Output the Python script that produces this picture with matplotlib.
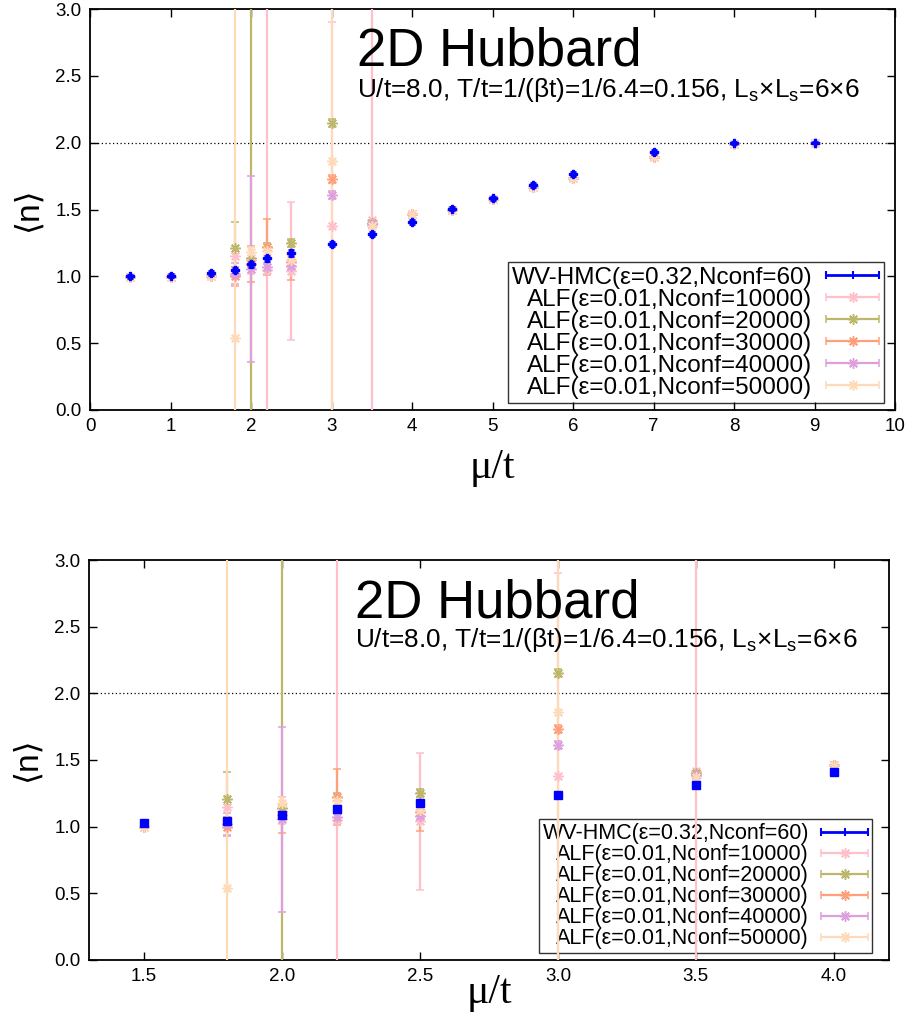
import numpy as np
import matplotlib
matplotlib.use("Agg")
import matplotlib.pyplot as plt
from matplotlib.container import ErrorbarContainer
from matplotlib.legend_handler import HandlerErrorbar

plt.rcParams['font.family'] = ['Liberation Sans', 'DejaVu Sans']
plt.rcParams['mathtext.fontset'] = 'custom'
plt.rcParams['mathtext.rm'] = 'Liberation Sans'

# chemical potential mu/t
mu = [0.5, 1.0, 1.5, 1.8, 2.0, 2.2, 2.5, 3.0, 3.5, 4.0, 4.5, 5.0, 5.5, 6.0, 7.0, 8.0, 9.0]

# WV-HMC
hmc_n = [1.00, 1.005, 1.025, 1.045, 1.09, 1.135, 1.175, 1.24, 1.315, 1.41, 1.505,
         1.585, 1.685, 1.765, 1.93, 1.995, 2.00]
hmc_err = [0.01, 0.01, 0.012, 0.015, 0.02, 0.02, 0.02, 0.015, 0.015, 0.015, 0.012,
           0.012, 0.015, 0.015, 0.012, 0.008, 0.005]

# ALF runs
alf_n_10000 = [0.995, 0.995, 1.00, 1.15, 1.12, 1.05, 1.04, 1.38, 1.42, 1.465, 1.50,
               1.58, 1.665, 1.735, 1.895, 1.99, 2.00]
alf_err_10000 = [0.01, 0.01, 0.01, 0.08, 0.10, 5.0, 0.515, 1.525, 5.0, 0.02, 0.02,
                 0.02, 0.02, 0.02, 0.02, 0.01, 0.01]
alf_n_20000 = [0.995, 0.995, 1.00, 1.21, 1.14, 1.22, 1.25, 2.15, 1.40, 1.465, 1.50,
               1.58, 1.665, 1.735, 1.895, 1.99, 2.00]
alf_err_20000 = [0.01, 0.01, 0.01, 0.20, 5.0, 0.03, 0.03, 0.03, 0.02, 0.02, 0.02,
                 0.02, 0.02, 0.02, 0.02, 0.01, 0.01]
alf_n_30000 = [0.995, 0.995, 1.00, 1.00, 1.09, 1.22, 1.11, 1.73, 1.39, 1.465, 1.50,
               1.58, 1.665, 1.735, 1.895, 1.99, 2.00]
alf_err_30000 = [0.01, 0.01, 0.01, 0.07, 0.135, 0.21, 0.14, 0.03, 0.02, 0.02, 0.02,
                 0.02, 0.02, 0.02, 0.02, 0.01, 0.01]
alf_n_40000 = [0.995, 0.995, 1.00, 1.02, 1.055, 1.07, 1.08, 1.61, 1.39, 1.465, 1.50,
               1.58, 1.665, 1.735, 1.895, 1.99, 2.00]
alf_err_40000 = [0.01, 0.01, 0.01, 0.08, 0.695, 0.03, 0.03, 0.03, 0.02, 0.02, 0.02,
                 0.02, 0.02, 0.02, 0.02, 0.01, 0.01]
alf_n_50000 = [0.995, 0.995, 1.00, 0.54, 1.18, 1.19, 1.125, 1.86, 1.375, 1.465, 1.50,
               1.58, 1.665, 1.735, 1.895, 1.99, 2.00]
alf_err_50000 = [0.01, 0.01, 0.01, 5.0, 0.04, 0.03, 0.03, 5.0, 0.02, 0.02, 0.02,
                 0.02, 0.02, 0.02, 0.02, 0.01, 0.01]

alf_n = [alf_n_10000, alf_n_20000, alf_n_30000, alf_n_40000, alf_n_50000]
alf_err = [alf_err_10000, alf_err_20000, alf_err_30000, alf_err_40000, alf_err_50000]
alf_colors = ['#ffc0cb', '#bdb76b', '#ffa07a', '#dda0dd', '#ffdab9']

hmc_label = 'WV-HMC(ε=0.32,Nconf=60)'
alf_labels = ['ALF(ε=0.01,Nconf=10000)', 'ALF(ε=0.01,Nconf=20000)',
              'ALF(ε=0.01,Nconf=30000)', 'ALF(ε=0.01,Nconf=40000)',
              'ALF(ε=0.01,Nconf=50000)']

title = '2D Hubbard'
subtitle = r'U/t=8.0, T/t=1/(βt)=1/6.4=0.156, L$_{\rm s}$×L$_{\rm s}$=6×6'

star = (8, 2, 0)


def panel(ax, xlim, xticks, xfmt, bmarker, bms, leg_fs, leg_anchor, t_y, s_y, xl_y):
    ax.axhline(2.0, color='black', lw=0.9, ls=(0, (1, 2)), zorder=1)

    for vals, errs, col in zip(alf_n, alf_err, alf_colors):
        ax.errorbar(mu, vals, yerr=errs, marker=star, ms=7.5, mew=1.1, ls='none',
                    color=col, elinewidth=1.6, capsize=3, capthick=1.6, zorder=3)
    ax.errorbar(mu, hmc_n, yerr=hmc_err, marker=bmarker, ms=bms, ls='none',
                color='blue', elinewidth=2, capsize=2.5, capthick=2, zorder=4)

    # legend proxies drawn as horizontal error bars (gnuplot style)
    handles = [ax.errorbar([np.nan], [np.nan], xerr=[1.0], marker='|', ms=6, mew=1.5,
                           ls='none', color='blue', elinewidth=2, capsize=3, capthick=2)]
    for col in alf_colors:
        handles.append(ax.errorbar([np.nan], [np.nan], xerr=[1.0], marker=star, ms=7.5,
                                   mew=1.1, ls='none', color=col, elinewidth=1.6,
                                   capsize=3, capthick=1.6))
    leg = ax.legend(handles, [hmc_label] + alf_labels, loc='lower right',
                    bbox_to_anchor=leg_anchor, fontsize=leg_fs, markerfirst=False,
                    fancybox=False, edgecolor='black', facecolor='none',
                    handlelength=2.2, handletextpad=0.55, labelspacing=0.0,
                    borderpad=0.18, borderaxespad=0,
                    handler_map={ErrorbarContainer: HandlerErrorbar(xerr_size=1.1)})
    leg.get_frame().set_linewidth(1.0)
    leg.set_zorder(1)

    ax.text(0.332, t_y, title, transform=ax.transAxes, fontsize=38, va='baseline')
    ax.text(0.332, s_y, subtitle, transform=ax.transAxes, fontsize=18.9, va='baseline')

    ax.set_xlim(xlim)
    ax.set_ylim(0, 3)
    ax.set_xticks(xticks)
    ax.set_xticklabels([xfmt.format(v) for v in xticks])
    ax.set_yticks(np.arange(0, 3.01, 0.5))
    ax.set_yticklabels(['{:.1f}'.format(v) for v in np.arange(0, 3.01, 0.5)])
    ax.tick_params(direction='in', length=6, width=1, top=True, right=True,
                   labelsize=13.5, pad=6)
    for sp in ax.spines.values():
        sp.set_linewidth(1.3)

    ax.set_xlabel('μ/t', fontsize=30, family=['Liberation Serif', 'DejaVu Serif'])
    ax.xaxis.label.set_va('baseline')
    ax.xaxis.set_label_coords(0.5, xl_y)
    ax.set_ylabel('⟨n⟩', fontsize=24)
    ax.yaxis.set_label_coords(-0.058, 0.5)


fig = plt.figure(figsize=(9.06, 10.18), dpi=100)
ax1 = fig.add_axes([90 / 906, 1 - 410 / 1018, 805 / 906, 401 / 1018])
ax2 = fig.add_axes([89 / 906, 1 - 960 / 1018, 800 / 906, 400 / 1018])

panel(ax1, (0, 10), list(range(0, 11)), '{:d}', 'P', 5.5, 17.5, (0.986, 0.0175),
      0.858, 0.781, -0.170)
panel(ax2, (1.3, 4.2), [1.5, 2.0, 2.5, 3.0, 3.5, 4.0], '{:.1f}', 's', 6, 15.5,
      (0.979, 0.0175), 0.855, 0.7825, -0.1075)

fig.savefig('out.png', dpi=100)
